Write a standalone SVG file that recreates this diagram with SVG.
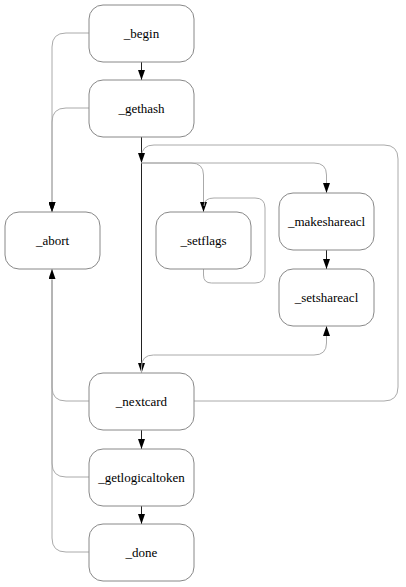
<svg xmlns="http://www.w3.org/2000/svg" width="406" height="587" viewBox="0 0 406 587">
<style>
.node rect{fill:#fff;stroke:#888;stroke-width:1}
.node text{font-size:13px;fill:#000;text-anchor:middle}
.e{fill:none;stroke:#222;stroke-width:1}
.g{fill:none;stroke:#aaa;stroke-width:1}
</style>
<defs>
<marker id="ah" viewBox="0 0 10 7" refX="10" refY="3.5" markerWidth="10" markerHeight="7" markerUnits="userSpaceOnUse" orient="auto">
<path d="M0,0 L10,3.5 L0,7 z" fill="#000"/>
</marker>
</defs>
<g id="connectors">
<path class="e" d="M141.5,62 V80" marker-end="url(#ah)"/>
<path class="g" d="M89,33 H66 Q52,33 52,47 V212" marker-end="url(#ah)"/>
<path class="g" d="M89,108 H66 Q52,108 52,122 V212" marker-end="url(#ah)"/>
<path class="e" d="M141.5,137 V373" marker-end="url(#ah)"/>
<path class="g" d="M194,401 H384 Q398,401 398,387 V159 Q398,145 384,145 H154 Q141.5,145 141.5,157 V163" marker-end="url(#ah)"/>
<path class="g" d="M141.5,163 H191 Q203.5,163 203.5,175 V212" marker-end="url(#ah)"/>
<path class="g" d="M141.5,163 H314 Q326.5,163 326.5,175 V193" marker-end="url(#ah)"/>
<path class="g" d="M203.5,269 V275 Q203.5,283 211.5,283 H255 Q265,283 265,273 V208 Q265,198 255,198 H214 Q204,198 204,206"/>
<path class="e" d="M326.5,250 V269" marker-end="url(#ah)"/>
<path class="g" d="M141.5,373 V367 Q141.5,355 153.5,355 H314 Q326.5,355 326.5,343 V326" marker-end="url(#ah)"/>
<path class="g" d="M89,401 H66 Q52,401 52,387 V269" marker-end="url(#ah)"/>
<path class="g" d="M89,477 H66 Q52,477 52,463 V280"/>
<path class="g" d="M89,552 H66 Q52,552 52,538 V280"/>
<path class="e" d="M141.5,430 V449" marker-end="url(#ah)"/>
<path class="e" d="M141.5,506 V524" marker-end="url(#ah)"/>
</g>
<g font-family="Liberation Serif, Times New Roman, serif">
<g id="begin" class="node"><rect x="89" y="5" width="105" height="57" rx="14"/><text x="141.5" y="38">_begin</text></g>
<g id="gethash" class="node"><rect x="89" y="80" width="105" height="57" rx="14"/><text x="141.5" y="113">_gethash</text></g>
<g id="abort" class="node"><rect x="5" y="212" width="95" height="57" rx="14"/><text x="52.5" y="245">_abort</text></g>
<g id="setflags" class="node"><rect x="156" y="212" width="95" height="57" rx="14"/><text x="203.5" y="245">_setflags</text></g>
<g id="makeshareacl" class="node"><rect x="279" y="193" width="95" height="57" rx="14"/><text x="326.5" y="226">_makeshareacl</text></g>
<g id="setshareacl" class="node"><rect x="279" y="269" width="95" height="57" rx="14"/><text x="326.5" y="302">_setshareacl</text></g>
<g id="nextcard" class="node"><rect x="89" y="373" width="105" height="57" rx="14"/><text x="141.5" y="406">_nextcard</text></g>
<g id="getlogicaltoken" class="node"><rect x="89" y="449" width="105" height="57" rx="14"/><text x="141.5" y="482">_getlogicaltoken</text></g>
<g id="done" class="node"><rect x="89" y="524" width="105" height="57" rx="14"/><text x="141.5" y="557">_done</text></g>
</g>
</svg>
